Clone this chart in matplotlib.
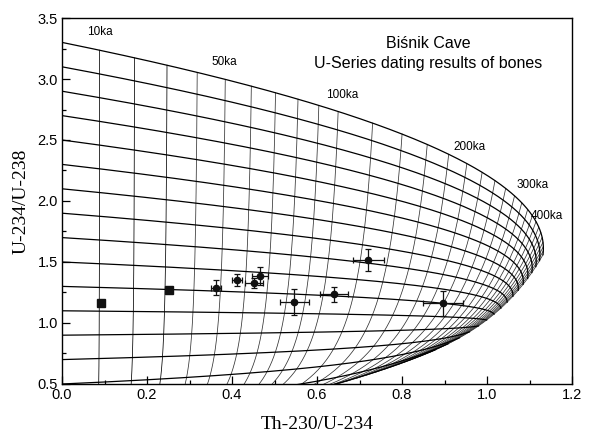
import numpy as np
import matplotlib
matplotlib.use('Agg')
import matplotlib.pyplot as plt

# decay constants (1/yr)
lam230 = np.log(2) / 75690.0
lam234 = np.log(2) / 245250.0

# initial U-234/U-238 of the growth curves
init_ratios = [0.1, 0.3, 0.5, 0.7, 0.9, 1.1, 1.3, 1.5, 1.7, 1.9, 2.1, 2.3, 2.5, 2.7, 2.9, 3.1, 3.3]
# isochron ages (ka)
iso_ages = [10, 20, 30, 40, 50, 60, 70, 80, 90, 100, 120, 140, 160, 180, 200,
            220, 240, 260, 280, 300, 320, 340, 360, 380, 400, 420, 440, 460, 480, 500]
max_age = 500
age_labels = ['10ka', '50ka', '100ka', '200ka', '300ka', '400ka']
label_x = [0.058, 0.352, 0.622, 0.922, 1.070, 1.103]
label_y = [3.385, 3.14, 2.87, 2.44, 2.13, 1.875]

# samples: Th-230/U-234, U-234/U-238 and errors
sq_x = [0.091, 0.251]
sq_y = [1.165, 1.272]
pt_x = [0.362, 0.412, 0.451, 0.466, 0.547, 0.640, 0.721, 0.896]
pt_y = [1.289, 1.350, 1.330, 1.383, 1.170, 1.235, 1.514, 1.161]
pt_xerr = [0.012, 0.011, 0.021, 0.019, 0.033, 0.033, 0.036, 0.047]
pt_yerr = [0.063, 0.048, 0.040, 0.072, 0.107, 0.064, 0.090, 0.100]


def evolve(d0, t_ka):
    t = np.asarray(t_ka) * 1000.0
    d = 1 + (d0 - 1) * np.exp(-lam234 * t)
    th = (1 - np.exp(-lam230 * t)
          + (d0 - 1) * lam230 / (lam230 - lam234) * (np.exp(-lam234 * t) - np.exp(-lam230 * t)))
    return th / d, d


fig = plt.figure(figsize=(5.93, 4.36), dpi=100)
ax = fig.add_axes([0.1046, 0.1193, 0.86, 0.8394])

tt = np.linspace(0, max_age, 600)
for d0 in init_ratios:
    x, y = evolve(d0, tt)
    ax.plot(x, y, color='black', lw=0.9, zorder=2)

dd = np.linspace(0.0, 3.3, 400)
for a in iso_ages:
    x, y = evolve(dd, a)
    c = 'black' if a <= 30 else '#333333'
    ax.plot(x, y, color=c, lw=0.55, zorder=1)

tick_font = ['Liberation Sans Narrow', 'Liberation Sans', 'DejaVu Sans']
for txt, lx, ly in zip(age_labels, label_x, label_y):
    ax.text(lx, ly, txt, fontsize=8.5, family=tick_font, va='center', ha='left', zorder=4)

ax.text(0.861, 3.295, 'Biśnik Cave', fontsize=11.5, family=['Liberation Sans', 'DejaVu Sans'],
        ha='center', va='center')
ax.text(0.861, 3.13, 'U-Series dating results of bones', fontsize=11.5,
        family=['Liberation Sans', 'DejaVu Sans'], ha='center', va='center')

ax.plot(sq_x, sq_y, 's', color='#111111', ms=5.5, zorder=5)
ax.errorbar(pt_x, pt_y, xerr=pt_xerr, yerr=pt_yerr, fmt='o', color='#111111', ms=4.5,
            elinewidth=0.9, capsize=2.2, capthick=0.9, zorder=5)

ax.set_xlim(0, 1.2)
ax.set_ylim(0.5, 3.5)
ax.set_xticks(np.arange(0, 1.21, 0.2))
ax.set_xticks(np.arange(0.1, 1.2, 0.2), minor=True)
ax.set_yticks(np.arange(0.5, 3.51, 0.5))
ax.set_yticks(np.arange(0.75, 3.5, 0.5), minor=True)
ax.set_xticklabels(['%.1f' % v for v in np.arange(0, 1.21, 0.2)])
ax.set_yticklabels(['%.1f' % v for v in np.arange(0.5, 3.51, 0.5)])
ax.tick_params(which='both', direction='in', top=False, right=False, width=0.9)
ax.tick_params(which='major', length=6, labelsize=10.5, pad=3)
ax.tick_params(which='minor', length=3)
for lab in ax.get_xticklabels() + ax.get_yticklabels():
    lab.set_family(tick_font)
for s in ax.spines.values():
    s.set_linewidth(1.0)

ax.set_xlabel('Th-230/U-234', fontsize=14, family=['Liberation Serif', 'DejaVu Serif'], labelpad=10)
ax.set_ylabel('U-234/U-238', fontsize=14, family=['Liberation Serif', 'DejaVu Serif'], labelpad=6)

fig.savefig('out.png', dpi=100)
